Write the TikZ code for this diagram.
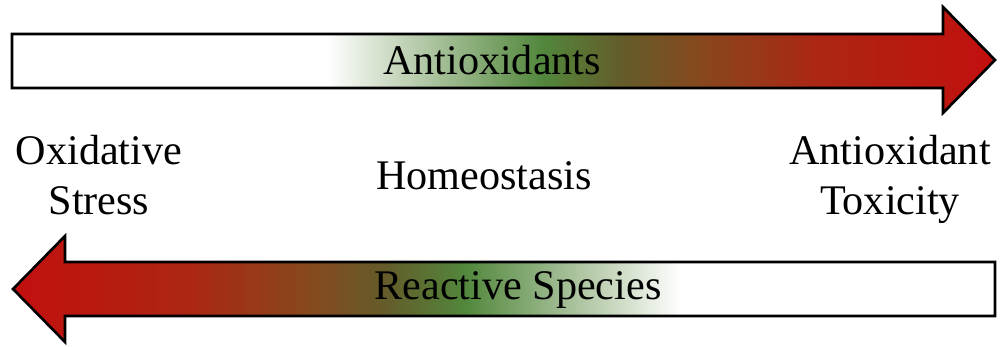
\documentclass[tikz,border=0pt]{standalone}
\usepackage{fontspec}
\setmainfont{Liberation Serif}
\usepackage{xcolor}

\definecolor{palegreen}{RGB}{200,215,190}
\definecolor{leafgreen}{RGB}{82,135,60}
\definecolor{olivedark}{RGB}{100,92,42}
\definecolor{rustbrown}{RGB}{135,72,30}
\definecolor{brickred}{RGB}{172,38,20}
\definecolor{tipred}{RGB}{195,15,15}

\pgfdeclarehorizontalshading{balance}{100bp}{color(0bp)=(white); color(41bp)=(white);
  color(44.5bp)=(palegreen); color(52bp)=(leafgreen); color(56bp)=(olivedark);
  color(60bp)=(rustbrown); color(66bp)=(brickred); color(75bp)=(tipred); color(100bp)=(tipred)}

\begin{document}
\begin{tikzpicture}[x=0.1mm,y=-0.1mm,
  gradarrow/.style={shading=balance,draw=black,line width=0.75pt,line join=miter},
  lbl/.style={font=\fontsize{12}{14.5}\selectfont,inner sep=0pt,align=center}]
  \useasboundingbox (0,0) rectangle (1002,347);
  % arrows
  \shadedraw[gradarrow] (12,34) -- (943,34) -- (943,7) -- (995,60) -- (943,113) -- (943,88) -- (12,88) -- cycle;
  \shadedraw[gradarrow,shading angle=180] (13,289) -- (65,236) -- (65,262) -- (995,262) -- (995,316) -- (65,316) -- (65,342) -- cycle;
  % texts (base = last line)
  \node[lbl,anchor=base] (antiox) at (492,75) {Antioxidants};
  \node[lbl,anchor=base] (stress) at (99,215) {Oxidative\\Stress};
  \node[lbl,anchor=base] (homeo) at (484,190) {Homeostasis};
  \node[lbl,anchor=base] (toxic) at (890,215) {Antioxidant\\Toxicity};
  \node[lbl,anchor=base] (reactive) at (518,300) {Reactive Species};
\end{tikzpicture}
\end{document}
